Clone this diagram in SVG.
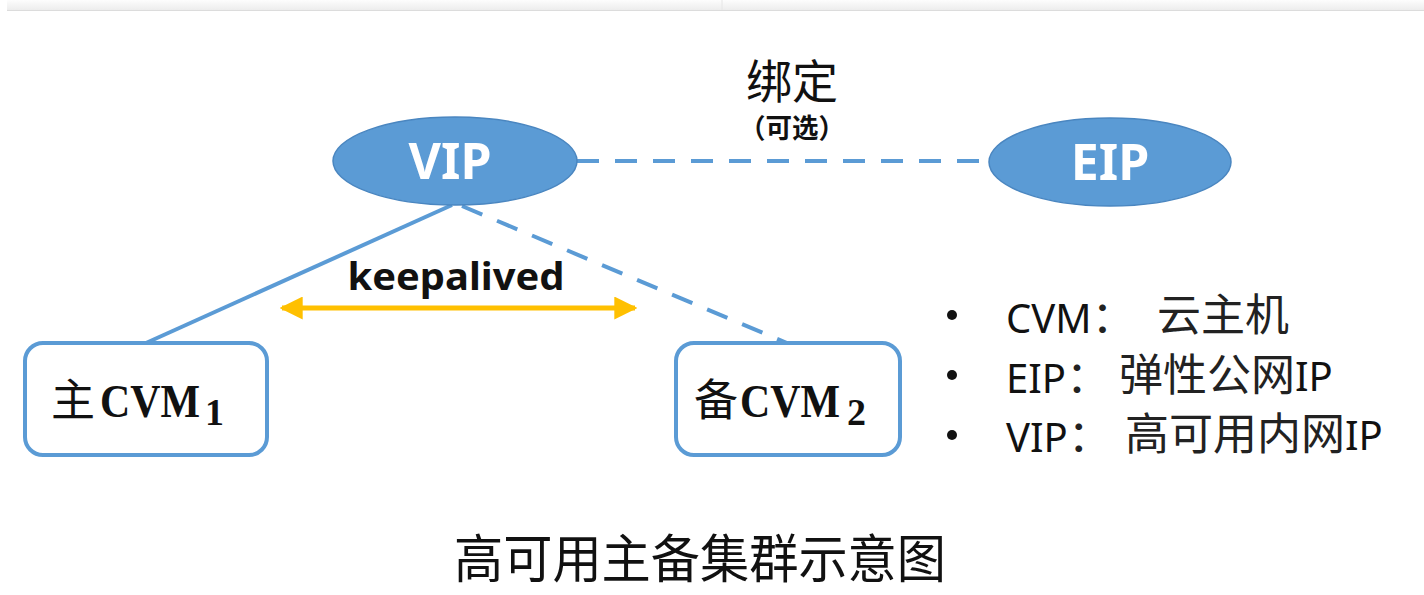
<svg xmlns="http://www.w3.org/2000/svg" width="1424" height="595" viewBox="0 0 1424 595">
<style>
.node-ell{fill:#5B9BD5;stroke:#4A86C0;stroke-width:1.5}
.ell-text{font-family:"Noto Sans","Open Sans",sans-serif;font-weight:bold;font-size:50px;fill:#ffffff;text-anchor:middle}
.box{fill:#ffffff;stroke:#5B9BD5;stroke-width:4}
.cjk{font-family:"Noto Sans CJK SC","Noto Sans",sans-serif;fill:#111111}
.serifb{font-family:"Liberation Serif","DejaVu Serif",serif;font-weight:bold;fill:#111111}
.conn{stroke:#5B9BD5;stroke-width:4;fill:none}
.dash{stroke-dasharray:22 16}
.legend{font-family:"Noto Sans","Liberation Sans",sans-serif;font-size:40px;fill:#111111}
.legend-cjk{font-family:"Noto Sans CJK SC",sans-serif;font-size:44px;fill:#222222}
</style>
<defs>
<linearGradient id="bar" x1="0" y1="0" x2="0" y2="1">
<stop offset="0" stop-color="#fdfdfd"/>
<stop offset="1" stop-color="#ebebeb"/>
</linearGradient>
<marker id="ah" viewBox="0 0 10 10" refX="9" refY="5" markerWidth="4.6" markerHeight="4.6" markerUnits="strokeWidth" orient="auto-start-reverse">
<path d="M0,0 L10,5 L0,10 Z" fill="#FFC000"/>
</marker>
</defs>
<rect width="1424" height="595" fill="#ffffff"/>
<g id="topbar">
<rect x="7" y="0" width="1417" height="11" fill="url(#bar)"/>
<line x1="7" y1="10.5" x2="1424" y2="10.5" stroke="#dcdcdc" stroke-width="1"/>
<line x1="722" y1="0" x2="722" y2="10" stroke="#e6e6e6" stroke-width="1"/>
</g>
<g id="connectors">
<line class="conn dash" x1="577" y1="161" x2="989" y2="161"/>
<line class="conn" x1="452" y1="205" x2="146" y2="343"/>
<line class="conn dash" x1="462" y1="206" x2="787" y2="343"/>
<line x1="282" y1="308" x2="635" y2="308" stroke="#FFC000" stroke-width="5" marker-start="url(#ah)" marker-end="url(#ah)"/>
<text x="456" y="290" font-family="Noto Sans,Open Sans,sans-serif" font-weight="bold" font-size="38" fill="#111111" text-anchor="middle" textLength="217" lengthAdjust="spacingAndGlyphs">keepalived</text>
<text class="cjk" x="792" y="98" font-size="46" text-anchor="middle">绑定</text>
<text class="cjk" x="792" y="138" font-size="27" font-weight="bold" text-anchor="middle" textLength="106" lengthAdjust="spacingAndGlyphs">（可选）</text>
</g>
<g id="vip">
<ellipse class="node-ell" cx="455" cy="161" rx="122" ry="44"/>
<text class="ell-text" x="450" y="179">VIP</text>
</g>
<g id="eip">
<ellipse class="node-ell" cx="1110" cy="162" rx="121" ry="44"/>
<text class="ell-text" x="1110" y="180">EIP</text>
</g>
<g id="cvm1">
<rect class="box" x="25" y="343" width="242" height="112" rx="18"/>
<text class="cjk" x="51" y="416" font-size="44">主<tspan class="serifb" x="100" y="417" font-size="46" textLength="100" lengthAdjust="spacingAndGlyphs">CVM</tspan><tspan class="serifb" x="205" y="425" font-size="38">1</tspan></text>
</g>
<g id="cvm2">
<rect class="box" x="676" y="343" width="224" height="112" rx="18"/>
<text class="cjk" x="694" y="416" font-size="44">备<tspan class="serifb" x="740" y="417" font-size="46" textLength="100" lengthAdjust="spacingAndGlyphs">CVM</tspan><tspan class="serifb" x="847" y="425" font-size="38">2</tspan></text>
</g>
<g id="legend">
<circle cx="952" cy="315" r="5" fill="#111111"/>
<circle cx="952" cy="375" r="5" fill="#111111"/>
<circle cx="952" cy="435" r="5" fill="#111111"/>
<text class="legend" x="1006" y="333">CVM<tspan class="legend-cjk">：</tspan></text>
<text class="legend-cjk" x="1157" y="331">云主机</text>
<text class="legend" x="1006" y="393">EIP<tspan class="legend-cjk">：</tspan></text>
<text class="legend-cjk" x="1119" y="391">弹性公网<tspan class="legend">IP</tspan></text>
<text class="legend" x="1006" y="452">VIP<tspan class="legend-cjk">：</tspan></text>
<text class="legend-cjk" x="1125" y="450">高可用内网<tspan class="legend">IP</tspan></text>
</g>
<g id="title">
<text class="cjk" x="700" y="578" font-size="52" text-anchor="middle" textLength="492" lengthAdjust="spacingAndGlyphs">高可用主备集群示意图</text>
</g>
</svg>
